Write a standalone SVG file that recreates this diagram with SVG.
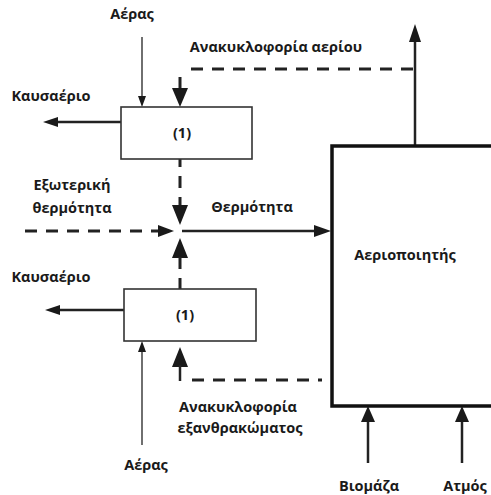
<svg xmlns="http://www.w3.org/2000/svg" width="491" height="495" viewBox="0 0 491 495">
<style>
text{font-family:"Open Sans","Noto Sans","Liberation Sans",sans-serif;font-weight:bold;font-size:14.5px;fill:#1a1a1a}
.box{fill:#fff;stroke:#333;stroke-width:1.6}
.gas{fill:#fff;stroke:#111;stroke-width:3.5}
.sol{stroke:#222;stroke-width:2.5;fill:none}
.thin{stroke:#333;stroke-width:1.4;fill:none}
.dash{stroke:#222;stroke-width:3;fill:none;stroke-dasharray:12 9}
.ah{fill:#1a1a1a}
</style>
<rect width="491" height="495" fill="#fff"/>
<g id="connectors">
  <line class="sol" x1="415" y1="146" x2="415" y2="40"/>
  <polygon class="ah" points="415,24 409,42 421,42"/>
  <polyline class="dash" points="413,69 183,69"/>
  <line class="dash" x1="180" y1="77" x2="180" y2="90" stroke-dasharray="none"/>
  <polygon class="ah" points="180,107 172,88 188,88"/>
  <line class="thin" x1="142" y1="37" x2="142" y2="98"/>
  <polygon class="ah" points="142,107 138,96 146,96"/>
  <line class="sol" x1="121" y1="122" x2="56" y2="122"/>
  <polygon class="ah" points="43,122 58,117 58,127"/>
  <line class="dash" x1="180" y1="155" x2="180" y2="206" stroke-dasharray="13 8"/>
  <polygon class="ah" points="180,225 172,205 188,205"/>
  <line class="dash" x1="25" y1="231" x2="160" y2="231" stroke-dasharray="12 9"/>
  <polygon class="ah" points="174,231 158,225 158,237"/>
  <line class="sol" x1="182" y1="231" x2="316" y2="231"/>
  <polygon class="ah" points="331,231 314,225 314,237"/>
  <polygon class="ah" points="180,238 172,258 188,258"/>
  <line class="dash" x1="180" y1="257" x2="180" y2="293" stroke-dasharray="12 8"/>
  <line class="sol" x1="124" y1="310" x2="58" y2="310"/>
  <polygon class="ah" points="45,310 60,305 60,315"/>
  <line class="thin" x1="142" y1="445" x2="142" y2="350"/>
  <polygon class="ah" points="142,341 138,352 146,352"/>
  <polygon class="ah" points="180,347 172,367 188,367"/>
  <line class="sol" x1="180" y1="365" x2="180" y2="381" stroke-width="3"/>
  <line class="dash" x1="192" y1="380" x2="322" y2="380"/>
  <line class="sol" x1="368" y1="463" x2="368" y2="420"/>
  <polygon class="ah" points="368,406 361,422 375,422"/>
  <line class="sol" x1="462" y1="463" x2="462" y2="420"/>
  <polygon class="ah" points="462,406 455,422 469,422"/>
</g>
<g id="combustor-top">
  <rect class="box" x="121" y="107" width="131" height="52"/>
  <text x="182" y="138" text-anchor="middle">(1)</text>
</g>
<g id="combustor-bottom">
  <rect class="box" x="124" y="289" width="132" height="52"/>
  <text x="185" y="320" text-anchor="middle">(1)</text>
</g>
<g id="gasifier">
  <rect class="gas" x="332" y="146" width="161" height="260"/>
  <text x="405" y="260" text-anchor="middle">Αεριοποιητής</text>
</g>
<g id="labels">
  <text x="132" y="19" text-anchor="middle">Αέρας</text>
  <text x="276" y="52" text-anchor="middle">Ανακυκλοφορία αερίου</text>
  <text x="51" y="101" text-anchor="middle">Καυσαέριο</text>
  <text x="72" y="190" text-anchor="middle">Εξωτερική</text>
  <text x="72" y="213" text-anchor="middle">θερμότητα</text>
  <text x="252" y="212" text-anchor="middle">Θερμότητα</text>
  <text x="51" y="282" text-anchor="middle">Καυσαέριο</text>
  <text x="238" y="412" text-anchor="middle">Ανακυκλοφορία</text>
  <text x="240" y="433" text-anchor="middle">εξανθρακώματος</text>
  <text x="146" y="470" text-anchor="middle">Αέρας</text>
  <text x="369" y="491" text-anchor="middle">Βιομάζα</text>
  <text x="465" y="491" text-anchor="middle">Ατμός</text>
</g>
</svg>
